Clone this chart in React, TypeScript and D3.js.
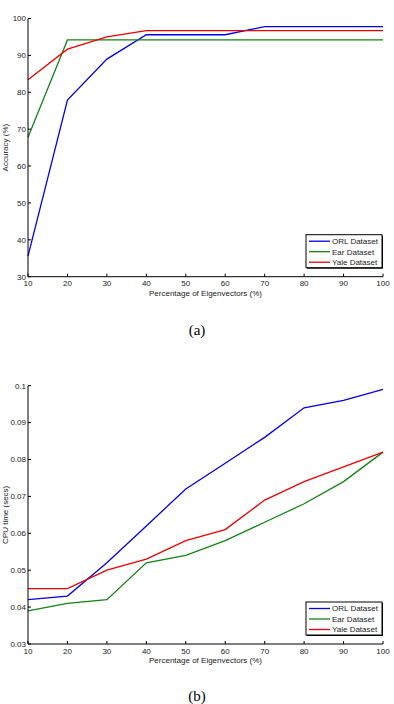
import React from "react";
import * as d3 from "d3";

const xValues = [10, 20, 30, 40, 50, 60, 70, 80, 90, 100];
const xTicks = [10, 20, 30, 40, 50, 60, 70, 80, 90, 100];

const accOrl = [35.6, 77.9, 89.0, 95.6, 95.6, 95.6, 97.8, 97.8, 97.8, 97.8];
const accEar = [67.8, 94.2, 94.2, 94.2, 94.2, 94.2, 94.2, 94.2, 94.2, 94.2];
const accYale = [83.4, 91.7, 95.0, 96.7, 96.7, 96.7, 96.7, 96.7, 96.7, 96.7];
const accTicks = [30, 40, 50, 60, 70, 80, 90, 100];

const cpuOrl = [0.042, 0.043, 0.052, 0.062, 0.072, 0.079, 0.086, 0.094, 0.096, 0.099];
const cpuEar = [0.039, 0.041, 0.042, 0.052, 0.054, 0.058, 0.063, 0.068, 0.074, 0.082];
const cpuYale = [0.045, 0.045, 0.05, 0.053, 0.058, 0.061, 0.069, 0.074, 0.078, 0.082];
const cpuTicks = [0.03, 0.04, 0.05, 0.06, 0.07, 0.08, 0.09, 0.1];

const seriesNames = ["ORL Dataset", "Ear Dataset", "Yale Dataset"];
const seriesColors = ["#0000ee", "#158215", "#ee0000"];

type PanelProps = {
  top: number;
  bottom: number;
  series: number[][];
  yDomain: [number, number];
  yTicks: number[];
  yFmt: (v: number) => string;
  yLabel: string;
  caption: string;
  captionY: number;
};

const LEFT = 28;
const RIGHT = 383;
const FONT = "Liberation Sans, Arial, Helvetica, sans-serif";
const SERIF = "Liberation Serif, Times New Roman, serif";
const FS = 8;

function Panel({ top, bottom, series, yDomain, yTicks, yFmt, yLabel, caption, captionY }: PanelProps) {
  const x = d3.scaleLinear().domain([10, 100]).range([LEFT, RIGHT]);
  const y = d3.scaleLinear().domain(yDomain).range([bottom, top]);
  const line = d3
    .line<number>()
    .x((_, i) => x(xValues[i]))
    .y((d) => y(d));
  const legX = 306;
  const legY = bottom - 42;
  const legW = 76;
  const legH = 33;
  return (
    <g>
      {series.map((s, i) => (
        <path key={i} d={line(s) || ""} fill="none" stroke={seriesColors[i]} strokeWidth={1.3} />
      ))}
      <line x1={LEFT} x2={LEFT} y1={top} y2={bottom} stroke="#000" strokeWidth={1} />
      <line x1={LEFT} x2={RIGHT} y1={bottom} y2={bottom} stroke="#000" strokeWidth={1} />
      {yTicks.map((t) => (
        <g key={t}>
          <line x1={LEFT} x2={LEFT + 3} y1={y(t)} y2={y(t)} stroke="#000" strokeWidth={1} />
          <text x={LEFT - 2} y={y(t) + 2.8} textAnchor="end" fontSize={FS} fontFamily={FONT} fill="#222">
            {yFmt(t)}
          </text>
        </g>
      ))}
      {xTicks.map((t) => (
        <g key={t}>
          <line x1={x(t)} x2={x(t)} y1={bottom} y2={bottom - 3} stroke="#000" strokeWidth={1} />
          <text x={x(t)} y={bottom + 9.5} textAnchor="middle" fontSize={FS} fontFamily={FONT} fill="#222">
            {t}
          </text>
        </g>
      ))}
      <text
        x={(LEFT + RIGHT) / 2}
        y={bottom + 19}
        textAnchor="middle"
        fontSize={FS}
        fontFamily={FONT}
        fill="#222"
      >
        Percentage of Eigenvectors (%)
      </text>
      <text
        transform={`translate(7.5, ${(top + bottom) / 2}) rotate(-90)`}
        textAnchor="middle"
        fontSize={FS}
        fontFamily={FONT}
        fill="#222"
      >
        {yLabel}
      </text>
      <rect x={legX + 1} y={legY + 1} width={legW} height={legH} fill="#000" />
      <rect x={legX} y={legY} width={legW} height={legH} fill="#fff" stroke="#000" strokeWidth={1} />
      {seriesNames.map((n, i) => (
        <g key={n}>
          <line
            x1={legX + 3}
            x2={legX + 24}
            y1={legY + 6.5 + i * 10.5}
            y2={legY + 6.5 + i * 10.5}
            stroke={seriesColors[i]}
            strokeWidth={1.3}
          />
          <text x={legX + 26} y={legY + 9.3 + i * 10.5} fontSize={FS} fontFamily={FONT} fill="#222">
            {n}
          </text>
        </g>
      ))}
      <text x={197} y={captionY} textAnchor="middle" fontSize={15} fontFamily={SERIF} fill="#000">
        {caption}
      </text>
    </g>
  );
}

export default function App() {
  return (
    <svg width={394} height={704} style={{ position: "absolute", left: 0, top: 0, background: "#fff" }}>
      <rect x={0} y={0} width={394} height={704} fill="#fff" />
      <Panel
        top={18.5}
        bottom={276.7}
        series={[accOrl, accEar, accYale]}
        yDomain={[30, 100]}
        yTicks={accTicks}
        yFmt={(v) => String(v)}
        yLabel="Accuracy (%)"
        caption="(a)"
        captionY={335}
      />
      <Panel
        top={385.7}
        bottom={644}
        series={[cpuOrl, cpuEar, cpuYale]}
        yDomain={[0.03, 0.1]}
        yTicks={cpuTicks}
        yFmt={(v) => (Math.abs(v - 0.1) < 1e-9 ? "0.1" : v.toFixed(2))}
        yLabel="CPU time (secs)"
        caption="(b)"
        captionY={701}
      />
    </svg>
  );
}
